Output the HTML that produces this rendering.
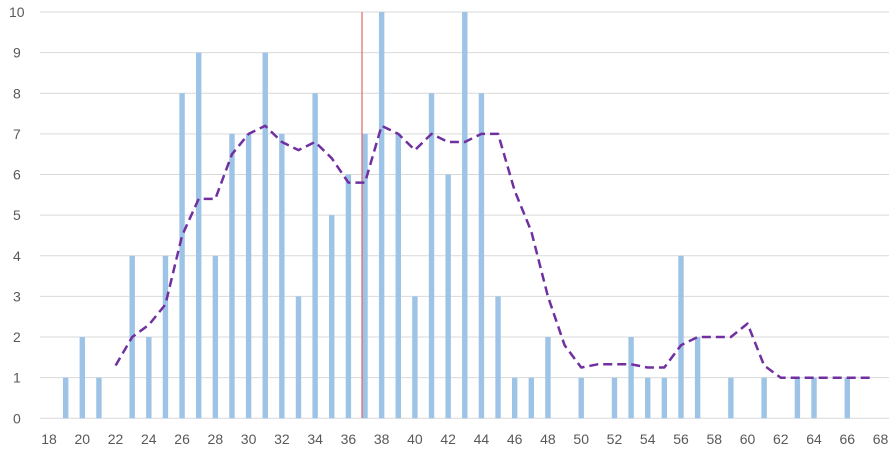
<!DOCTYPE html>
<html><head><meta charset="utf-8"><style>
body{margin:0;background:#fff;}
svg text{font-family:"Liberation Sans",sans-serif;font-size:14px;fill:#595959;}
</style></head><body>
<svg width="896" height="453" xmlns="http://www.w3.org/2000/svg">
<g id="grid" stroke="#d9d9d9" stroke-width="1"></g>
<g id="ylab"></g><g id="bars" fill="#9dc3e6"></g><g id="xlab"></g>
<line x1="362" y1="12" x2="362" y2="418" stroke="#e06666" stroke-width="1.2"/>
<polyline id="ma" fill="none" stroke="#7030a0" stroke-width="2.5" stroke-dasharray="9,5" stroke-linejoin="round"/>
</svg>
<script>
const NS="http://www.w3.org/2000/svg";
const X=v=>82.3+(v-20)*16.63, Y=v=>418.3-v*40.63;
const g=document.getElementById('grid'),yl=document.getElementById('ylab'),b=document.getElementById('bars'),xl=document.getElementById('xlab');
function el(p,t,a,txt){const e=document.createElementNS(NS,t);for(const k in a)e.setAttribute(k,a[k]);if(txt!==undefined)e.textContent=txt;p.appendChild(e);}
for(let i=0;i<=10;i++){el(g,'line',{x1:40,x2:889,y1:Y(i),y2:Y(i)});el(yl,'text',{x:i==10?9:13,y:Y(i)+5},i);}
const d={19:1,20:2,21:1,23:4,24:2,25:4,26:8,27:9,28:4,29:7,30:7,31:9,32:7,33:3,34:8,35:5,36:6,37:7,38:10,39:7,40:3,41:8,42:6,43:10,44:8,45:3,46:1,47:1,48:2,50:1,52:1,53:2,54:1,55:1,56:4,57:2,59:1,61:1,63:1,64:1,66:1};
for(const k in d){el(b,'rect',{x:X(+k)-2.7,y:Y(d[k]),width:5.4,height:Y(0)-Y(d[k])});}
for(let v=18;v<=68;v+=2)el(xl,'text',{x:X(v),y:444,'text-anchor':'middle'},v);
const m=[[22,1.3],[23,2],[24,2.3],[25,2.8],[26,4.5],[27,5.4],[28,5.4],[29,6.5],[30,7],[31,7.2],[32,6.8],[33,6.6],[34,6.8],[35,6.4],[36,5.8],[37,5.8],[38,7.2],[39,7],[40,6.6],[41,7],[42,6.8],[43,6.8],[44,7],[45,7],[46,5.6],[47,4.6],[48,3],[49,1.8],[50,1.25],[51,1.33],[52,1.33],[53,1.33],[54,1.25],[55,1.25],[56,1.8],[57,2],[58,2],[59,2],[60,2.33],[61,1.3],[62,1],[63,1],[64,1],[65,1],[66,1],[67,1],[67.5,1]];
document.getElementById('ma').setAttribute('points',m.map(p=>X(p[0]).toFixed(1)+','+Y(p[1]).toFixed(1)).join(' '));
</script>
</body></html>
